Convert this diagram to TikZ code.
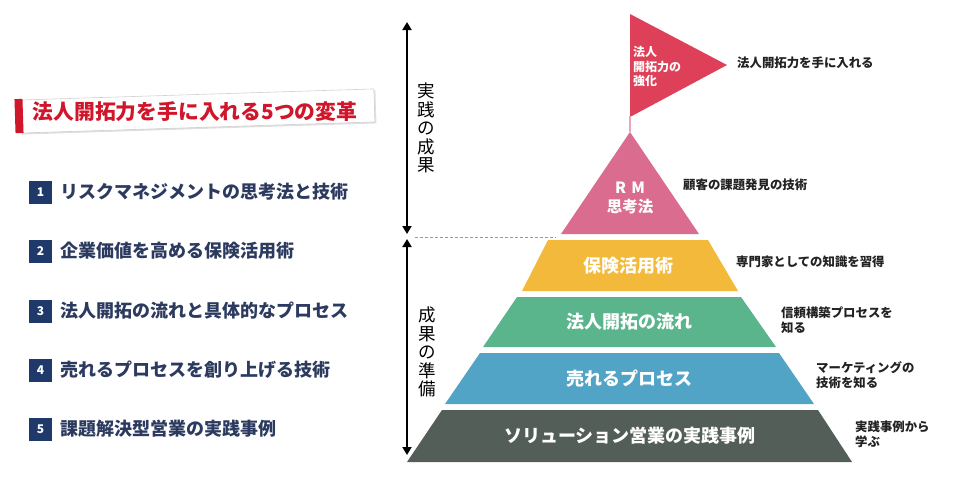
\documentclass[tikz,border=0pt]{standalone}
\usepackage{fontspec}
\newfontfamily\jp{Noto Sans CJK JP}
\usetikzlibrary{arrows.meta,positioning,calc,shadows}
\definecolor{navy}{RGB}{31,58,106}
\definecolor{navytext}{RGB}{43,58,94}
\definecolor{titlered}{RGB}{208,22,42}
\definecolor{flagred}{RGB}{221,64,88}
\definecolor{rmpink}{RGB}{217,108,143}
\definecolor{polepink}{RGB}{234,165,185}
\definecolor{lyellow}{RGB}{242,185,59}
\definecolor{lgreen}{RGB}{90,180,140}
\definecolor{lblue}{RGB}{82,164,198}
\definecolor{lgray}{RGB}{84,94,88}
\definecolor{ink}{RGB}{34,34,34}
\tikzset{
  titlebox/.style={draw=black!18, fill=white, line width=0.6pt, minimum width=355pt,
              minimum height=33pt, inner sep=0pt, rotate=1.8,
              drop shadow={shadow xshift=1.5pt, shadow yshift=-1.5pt, opacity=.25}},
  numbox/.style={fill=navy, minimum size=23pt, inner sep=0pt, text=white,
              font=\jp\bfseries\fontsize{12}{12}\selectfont},
  item/.style={anchor=west, inner sep=0pt, text=navytext,
              font=\jp\bfseries\fontsize{18}{18}\selectfont},
  layer/.style={text=white, align=center, inner sep=0pt,
              font=\jp\bfseries\fontsize{18}{18}\selectfont},
  flagtxt/.style={anchor=west, align=left, inner sep=0pt, text=white,
              font=\jp\bfseries\fontsize{12}{14.5}\selectfont},
  note/.style={anchor=west, align=left, inner sep=0pt, text=ink,
              font=\jp\bfseries\fontsize{12.4}{15}\selectfont},
  vlabel/.style={align=center, inner sep=0pt, text=black,
              font=\jp\fontsize{17.5}{18.5}\selectfont},
  span/.style={{Triangle[length=8pt,width=9pt]}-{Triangle[length=8pt,width=9pt]}, line width=1.8pt},
  pole/.style={polepink, line width=2.5pt},
}

\begin{document}
\begin{tikzpicture}[x=1pt, y=-1pt]
  \useasboundingbox (0,0) rectangle (958,480);
  % title
  \node[titlebox] (tbox) at (197,111) {};
  \node[fill=titlered, minimum width=8pt, minimum height=34pt, inner sep=0pt, rotate=1.8] (tbar) at (19,116) {};
  \node[text=titlered, font=\jp\bfseries\fontsize{20.8}{20.8}\selectfont] (ttl) at (195,112) {法人開拓力を手に入れる5つの変革};
  % list
  \foreach \i/\y/\txt in {1/192/リスクマネジメントの思考法と技術, 2/251/企業価値を高める保険活用術,
      3/311/法人開拓の流れと具体的なプロセス, 4/370/売れるプロセスを創り上げる技術, 5/429/課題解決型営業の実践事例}{
    \node[numbox] (n\i) at (40.5,\y) {\i};
    \node[item, right=8pt of n\i] (t\i) {\txt};
  }
  % left scale
  \coordinate (top1) at (407,22);
  \coordinate (mid1) at (407,234);
  \coordinate (mid2) at (407,239);
  \coordinate (bot2) at (407,455);
  \draw[span] (top1) -- (mid1);
  \draw[span] (mid2) -- (bot2);
  \node[vlabel] (jissen) at (426,128) {実\\践\\の\\成\\果};
  \node[vlabel] (junbi) at (427,352) {成\\果\\の\\準\\備};
  \coordinate (dashL) at (415,237);
  \coordinate (dashR) at (556,237);
  \draw[black!40, line width=1pt, dash pattern=on 3pt off 2pt] (dashL) -- (dashR);
  % flag and top
  \fill[flagred] (630,14) -- (727,65) -- (630,117) -- cycle;
  \coordinate (flagfoot) at (630,116);
  \coordinate (apex) at (630,132);
  \draw[pole] (flagfoot) -- (apex);
  \fill[rmpink] (apex) -- (699,234) -- (561,234) -- cycle;
  \node[flagtxt] (flag) at (633,66.5) {法人\\開拓力の\\強化};
  \node[layer, font=\jp\bfseries\fontsize{15.5}{19}\selectfont] (rm) at (630,197.5) {R\hspace{.35em}M\\思考法};
  % layers
  \foreach \nm/\tl/\tr/\bl/\br/\yt/\yb/\col/\txt in {
      hoken/548/708/522/738/240/291/lyellow/保険活用術,
      houjin/517/741/483/776/297/347/lgreen/法人開拓の流れ,
      ureru/480/779/445/814/353/404/lblue/売れるプロセス,
      sol/442/818/407/852/410/462/lgray/ソリューション営業の実践事例}{
    \fill[\col] (\tl,\yt) -- (\tr,\yt) -- (\br,\yb) -- (\bl,\yb) -- cycle;
    \node[layer] (\nm) at ({(\tl+\tr)/2},{(\yt+\yb)/2}) {\txt};
  }
  % notes
  \node[note] (nflag) at (737,63) {法人開拓力を手に入れる};
  \node[note] (nrm) at (683,185) {顧客の課題発見の技術};
  \node[note] (nhoken) at (736,262) {専門家としての知識を習得};
  \node[note] (nhoujin) at (781,320.5) {信頼構築プロセスを\\知る};
  \node[note] (nureru) at (816,375) {マーケティングの\\技術を知る};
  \node[note] (nsol) at (855,434.5) {実践事例から\\学ぶ};
\end{tikzpicture}
\end{document}
